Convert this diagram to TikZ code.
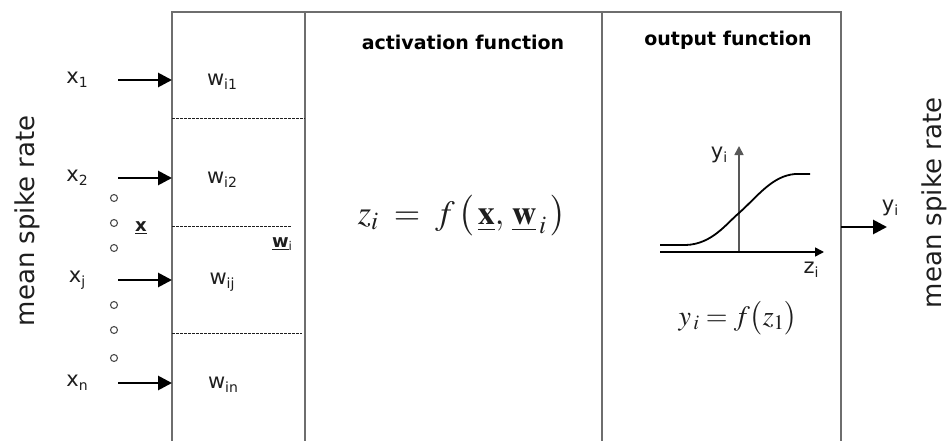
\documentclass[tikz,border=0pt]{standalone}
\usepackage{fix-cm}
\usepackage{mathptmx}
\usepackage{fontspec}
\setmainfont{DejaVu Sans}
\usetikzlibrary{arrows.meta}
\definecolor{frame}{HTML}{6E6E6E}
\definecolor{ink}{HTML}{1E1E1E}
\newcommand{\lbl}[2]{#1\raisebox{-0.35ex}{\fontsize{14}{14}\selectfont #2}}
\begin{document}
\begin{tikzpicture}[x=1pt,y=-1pt,
  frameline/.style={draw=frame,line width=1.8pt},
  divline/.style={draw=ink,line width=0.7pt,dash pattern=on 2.5pt off 1.5pt},
  inarrow/.style={draw=black,line width=2.8pt,-{Triangle[length=14pt,width=14pt]}},
  axisline/.style={draw=black,line width=1.6pt,-{Triangle[length=9pt,width=9pt]}},
  lab/.style={inner sep=0pt,text=ink,font=\fontsize{21}{21}\selectfont},
  head/.style={inner sep=0pt,text=black,font=\bfseries\fontsize{19}{19}\selectfont},
  side/.style={inner sep=0pt,text=ink,font=\fontsize{26}{26}\selectfont,rotate=90},
  dot/.style={circle,draw=frame!70!black,line width=1.1pt,minimum size=7pt,inner sep=0pt},
  eq/.style={inner sep=0pt,text=ink}]
\useasboundingbox (0,0) rectangle (950,441);
% frame
\coordinate (TL) at (172,12);
\coordinate (TR) at (841,12);
\coordinate (BL) at (172,441);
\coordinate (BR) at (841,441);
\coordinate (T2) at (305,12);
\coordinate (B2) at (305,441);
\coordinate (T3) at (602,12);
\coordinate (B3) at (602,441);
\draw[frameline] (BL) -- (TL) -- (TR) -- (BR);
\draw[frameline] (T2) -- (B2);
\draw[frameline] (T3) -- (B3);
% dashed dividers
\coordinate (d1a) at (172,118); \coordinate (d1b) at (305,118);
\coordinate (d2a) at (172,226); \coordinate (d2b) at (292,226);
\coordinate (d3a) at (172,333); \coordinate (d3b) at (302,333);
\draw[divline] (d1a) -- (d1b);
\draw[divline] (d2a) -- (d2b);
\draw[divline] (d3a) -- (d3b);
% inputs
\node[lab] (x1) at (77,80) {\lbl{x}{1}};
\node[lab] (x2) at (77,178) {\lbl{x}{2}};
\node[lab] (xj) at (77,280) {\lbl{x}{j}};
\node[lab] (xn) at (77,383) {\lbl{x}{n}};
\coordinate (a1) at (118,80);  \coordinate (e1) at (172,80);
\coordinate (a2) at (118,178); \coordinate (e2) at (172,178);
\coordinate (aj) at (118,280); \coordinate (ej) at (172,280);
\coordinate (an) at (118,383); \coordinate (en) at (172,383);
\draw[inarrow] (a1) -- (e1);
\draw[inarrow] (a2) -- (e2);
\draw[inarrow] (aj) -- (ej);
\draw[inarrow] (an) -- (en);
% weights
\node[lab] (w1) at (222,82) {\lbl{w}{i1}};
\node[lab] (w2) at (222,180) {\lbl{w}{i2}};
\node[lab] (wj) at (222,282) {\lbl{w}{ij}};
\node[lab] (wn) at (223,385) {\lbl{w}{in}};
% dots
\node[dot] (c1) at (114,198) {};
\node[dot] (c2) at (114,223) {};
\node[dot] (c3) at (114,248) {};
\node[dot] (c4) at (114,305) {};
\node[dot] (c5) at (114,330) {};
\node[dot] (c6) at (114,358) {};
\node[lab,font=\bfseries\fontsize{18}{18}\selectfont] (xvec) at (141,228) {\underline{x}};
\node[lab,font=\bfseries\fontsize{18}{18}\selectfont] (wvec) at (282,244) {\underline{w}\raisebox{-0.35ex}{\mdseries\fontsize{12}{12}\selectfont i}};
% side labels
\node[side] (msl) at (27,221) {mean spike rate};
\node[side] (msr) at (934,203) {mean spike rate};
% headings
\node[head] (act) at (463,42) {activation function};
\node[head] (out) at (728,40) {output function};
% activation formula
\node[eq,font=\fontsize{34}{34}\selectfont] (zeq) at (462,216) {$z_i \;=\; f\,\bigl(\,\underline{\mathbf{x}}, \,\underline{\mathbf{w}}_{\,i}\,\bigr)$};
% output graph
\coordinate (yb) at (739,252); \coordinate (yt) at (739,146);
\coordinate (xl) at (660,252); \coordinate (xr) at (824,252);
\draw[axisline,draw=frame!80!black] (yb) -- (yt);
\draw[axisline] (xl) -- (xr);
\coordinate (s0) at (660,245);
\coordinate (s1) at (810,174);
\draw[black,line width=1.8pt] (s0) -- (686,245) .. controls (712,244) and (726,224) .. (739,213)
  .. controls (758,196) and (772,176) .. (795,174) -- (s1);
\node[lab] (yil) at (719,155) {\lbl{y}{i}};
\node[lab] (zil) at (811,270) {\lbl{z}{i}};
\node[eq,font=\fontsize{28}{28}\selectfont] (yeq) at (738,318) {$y_{\,i} = f\bigl(z_1\bigr)$};
% output arrow
\coordinate (oa) at (841,227); \coordinate (ob) at (887,227);
\draw[inarrow] (oa) -- (ob);
\node[lab] (yo) at (890,208) {\lbl{y}{i}};
\end{tikzpicture}
\end{document}
